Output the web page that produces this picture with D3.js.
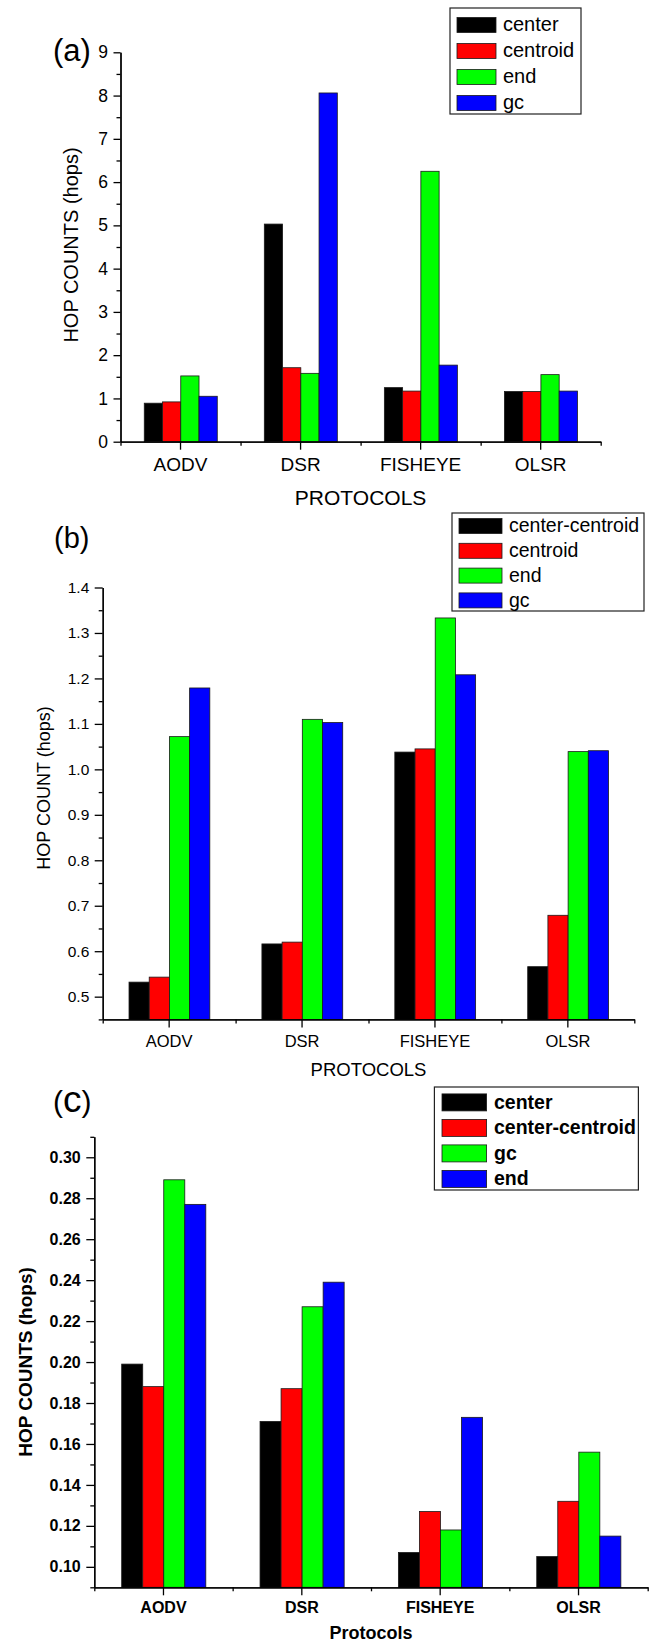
<!DOCTYPE html>
<html>
<head>
<meta charset="utf-8">
<script src="https://cdn.jsdelivr.net/npm/d3@7"></script>
<style>
  body { margin: 0; background: #fff; }
  svg { display: block; font-family: "Liberation Sans", Arial, sans-serif; }
</style>
</head>
<body>
<svg id="fig" width="655" height="1643"></svg>
<script>
// categories on the x axis, same for the three panels
const protocols = ["AODV", "DSR", "FISHEYE", "OLSR"];
const colors = ["#000000", "#ff0000", "#00ff00", "#0000ff"];

// panel (a)
const seriesA   = ["center", "centroid", "end", "gc"];
const aCenter   = [0.89, 5.03, 1.25, 1.16];
const aCentroid = [0.92, 1.71, 1.17, 1.16];
const aEnd      = [1.52, 1.58, 6.25, 1.55];
const aGc       = [1.05, 8.06, 1.77, 1.17];
const ticksA = [0, 1, 2, 3, 4, 5, 6, 7, 8, 9];
const minorA = [0.5, 1.5, 2.5, 3.5, 4.5, 5.5, 6.5, 7.5, 8.5];

// panel (b)
const seriesB    = ["center-centroid", "centroid", "end", "gc"];
const bCenterCen = [0.532, 0.616, 1.038, 0.566];
const bCentroid  = [0.543, 0.620, 1.045, 0.679];
const bEnd       = [1.072, 1.110, 1.333, 1.039];
const bGc        = [1.179, 1.103, 1.208, 1.041];
const ticksB = [0.5, 0.6, 0.7, 0.8, 0.9, 1.0, 1.1, 1.2, 1.3, 1.4];
const minorB = [0.45, 0.55, 0.65, 0.75, 0.85, 0.95, 1.05, 1.15, 1.25, 1.35];

// panel (c)
const seriesC    = ["center", "center-centroid", "gc", "end"];
const cCenter    = [0.199, 0.171, 0.107, 0.105];
const cCenterCen = [0.188, 0.187, 0.127, 0.132];
const cGc        = [0.289, 0.227, 0.118, 0.156];
const cEnd       = [0.277, 0.239, 0.173, 0.115];
const ticksC = [0.10, 0.12, 0.14, 0.16, 0.18, 0.20, 0.22, 0.24, 0.26, 0.28, 0.30];
const minorC = [0.09, 0.11, 0.13, 0.15, 0.17, 0.19, 0.21, 0.23, 0.25, 0.27, 0.29, 0.31];

const svg = d3.select("#fig");
svg.append("rect").attr("width", 655).attr("height", 1643).attr("fill", "#fff");

function styleAxis(sel, size, weight) {
  sel.attr("font-family", null).attr("font-size", null);
  sel.selectAll(".domain, .tick line")
    .attr("stroke", "#000")
    .attr("stroke-width", 1.3);
  sel.selectAll("text")
    .attr("fill", "#000")
    .attr("font-size", size)
    .attr("font-weight", weight);
}

function drawPanel(p) {
  const g = svg.append("g");
  const weight = p.bold ? "bold" : "normal";

  const x0 = d3.scaleBand().domain(protocols).range(p.xRange).padding(0);
  const x1 = d3.scaleBand().domain(p.series)
    .range([x0.bandwidth() * 0.198, x0.bandwidth() * 0.806]);
  const y = d3.scaleLinear().domain(p.yDomain).range(p.yRange);
  const base = p.yDomain[0];
  const axisY = p.yRange[0];

  // barras
  p.series.forEach((s, i) => {
    g.append("g").selectAll("rect")
      .data(p.values[i])
      .join("rect")
      .attr("x", (d, j) => x0(protocols[j]) + x1(s))
      .attr("y", d => y(d))
      .attr("width", x1.bandwidth())
      .attr("height", d => y(base) - y(d))
      .attr("fill", colors[i])
      .attr("stroke", "#1a1a1a")
      .attr("stroke-width", 0.8);
  });

  // eje y: menores y mayores
  g.append("g")
    .attr("transform", `translate(${p.xRange[0]},0)`)
    .call(d3.axisLeft(y).tickValues(p.minor).tickSize(4).tickSizeOuter(0).tickFormat(""))
    .call(s => styleAxis(s, p.tickFont, weight));
  g.append("g")
    .attr("transform", `translate(${p.xRange[0]},0)`)
    .call(d3.axisLeft(y).tickValues(p.ticks).tickSize(p.tickLen).tickSizeOuter(0)
      .tickPadding(p.yPad).tickFormat(d3.format(p.fmt)))
    .call(s => styleAxis(s, p.tickFont, weight));

  // eje x: limites de grupo (cortos) y centros (largos, con etiqueta)
  const xb = d3.scaleLinear().domain([0, protocols.length]).range(p.xRange);
  g.append("g")
    .attr("transform", `translate(0,${axisY})`)
    .call(d3.axisBottom(xb).tickValues(d3.range(protocols.length + 1))
      .tickSize(4).tickSizeOuter(0).tickFormat(""))
    .call(s => styleAxis(s, p.catFont, weight));
  g.append("g")
    .attr("transform", `translate(0,${axisY})`)
    .call(d3.axisBottom(x0).tickSize(8).tickSizeOuter(0).tickPadding(p.xPad))
    .call(s => styleAxis(s, p.catFont, weight));

  // titulos
  g.append("text")
    .attr("transform", `translate(${p.yTitleX},${p.yTitleY}) rotate(-90)`)
    .attr("text-anchor", "middle")
    .attr("dy", "0.35em")
    .attr("font-size", p.yTitleSize)
    .attr("font-weight", weight)
    .text(p.yTitle);

  g.append("text")
    .attr("x", (p.xRange[0] + p.xRange[1]) / 2)
    .attr("y", p.xTitleY)
    .attr("text-anchor", "middle")
    .attr("font-size", p.xTitleSize)
    .attr("font-weight", weight)
    .text(p.xTitle);

  // etiqueta del panel
  const tag = g.append("text")
    .attr("x", p.tagX)
    .attr("y", p.tagY)
    .attr("font-size", p.tagSize);
  tag.append("tspan").text("(");
  tag.append("tspan").attr("font-size", p.tagInner).text(p.tag);
  tag.append("tspan").text(")");

  // leyenda
  const L = p.legend;
  const lg = g.append("g");
  lg.append("rect")
    .attr("x", L.x).attr("y", L.y).attr("width", L.w).attr("height", L.h)
    .attr("fill", "#fff").attr("stroke", "#222").attr("stroke-width", 1.2);
  p.series.forEach((s, i) => {
    const cy = L.row0 + i * L.step;
    lg.append("rect")
      .attr("x", L.sx).attr("y", cy - L.sh / 2)
      .attr("width", L.sw).attr("height", L.sh)
      .attr("fill", colors[i])
      .attr("stroke", "#1a1a1a").attr("stroke-width", 0.8);
    lg.append("text")
      .attr("x", L.tx).attr("y", cy).attr("dy", "0.32em")
      .attr("font-size", L.size)
      .attr("font-weight", weight)
      .text(s);
  });
}

drawPanel({
  series: seriesA, values: [aCenter, aCentroid, aEnd, aGc],
  xRange: [120.5, 600.7], yDomain: [0, 9], yRange: [441.7, 52.3],
  ticks: ticksA, minor: minorA, fmt: "d",
  tickLen: 7, yPad: 5.5, tickFont: 17.5, catFont: 19, xPad: 8.3, bold: false,
  tag: "a", tagX: 53, tagY: 61, tagSize: 31, tagInner: 31,
  yTitle: "HOP COUNTS (hops)", yTitleX: 71, yTitleY: 245, yTitleSize: 20,
  xTitle: "PROTOCOLS", xTitleY: 505, xTitleSize: 21,
  legend: { x: 450, y: 8, w: 131, h: 106, sx: 457, sw: 39, sh: 15, row0: 25, step: 26, tx: 503, size: 20 }
});

drawPanel({
  series: seriesB, values: [bCenterCen, bCentroid, bEnd, bGc],
  xRange: [102.7, 634.3], yDomain: [0.45, 1.4], yRange: [1019.4, 587.5],
  ticks: ticksB, minor: minorB, fmt: ".1f",
  tickLen: 8, yPad: 5.4, tickFont: 15.5, catFont: 16.5, xPad: 7.5, bold: false,
  tag: "b", tagX: 54, tagY: 548, tagSize: 29, tagInner: 29,
  yTitle: "HOP COUNT (hops)", yTitleX: 44, yTitleY: 788, yTitleSize: 18,
  xTitle: "PROTOCOLS", xTitleY: 1075.7, xTitleSize: 18.5,
  legend: { x: 452, y: 513, w: 192, h: 98, sx: 459, sw: 43, sh: 15, row0: 526, step: 24.8, tx: 509, size: 19.5 }
});

drawPanel({
  series: seriesC, values: [cCenter, cCenterCen, cGc, cEnd],
  xRange: [94.3, 647.7], yDomain: [0.09, 0.31], yRange: [1587.3, 1136.8],
  ticks: ticksC, minor: minorC, fmt: ".2f",
  tickLen: 8, yPad: 5.6, tickFont: 16, catFont: 16, xPad: 6.6, bold: true,
  tag: "c", tagX: 53, tagY: 1112, tagSize: 30, tagInner: 37,
  yTitle: "HOP COUNTS (hops)", yTitleX: 25, yTitleY: 1362, yTitleSize: 19,
  xTitle: "Protocols", xTitleY: 1638.5, xTitleSize: 18,
  legend: { x: 434.4, y: 1087, w: 204, h: 103, sx: 442, sw: 44.6, sh: 17, row0: 1102.4, step: 25.5, tx: 494, size: 19.5 }
});
</script>
</body>
</html>
